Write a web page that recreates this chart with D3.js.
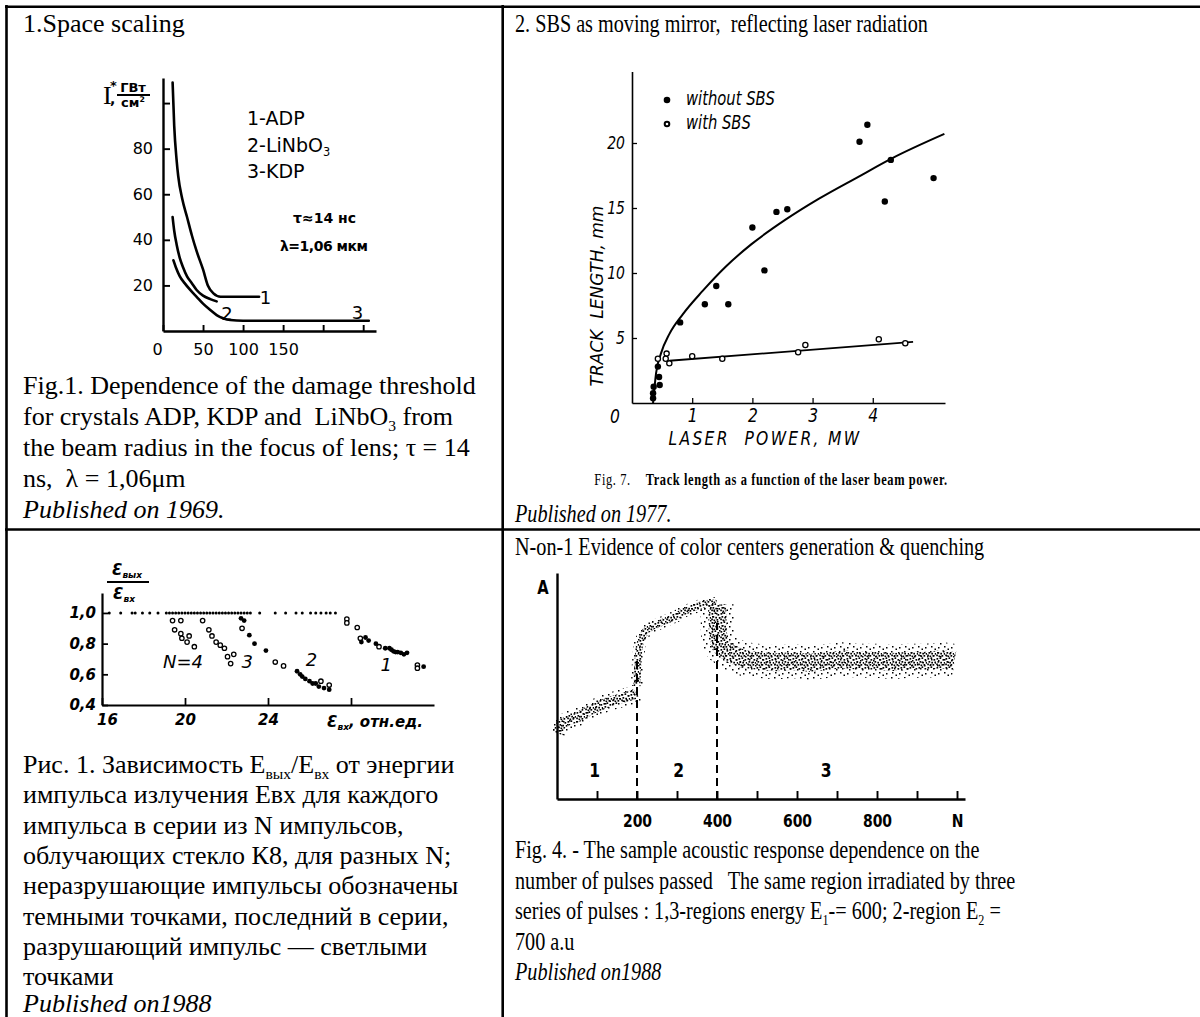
<!DOCTYPE html>
<html>
<head>
<meta charset="utf-8">
<script src="https://cdn.jsdelivr.net/npm/d3@7"></script>
<style>
  body { margin: 0; background: #fff; }
  svg { display: block; }
  text { white-space: pre; }
</style>
</head>
<body>
<svg id="svg"></svg>
<script>
// ---- chart 1: damage threshold vs beam radius ----
const radiusTicks = [0, 50, 100, 150, 200, 250];
const radiusLabels = ["0", "50", "100", "150"];
const thresholdTicks = [20, 40, 60, 80, 100];
const adpCurve = [[12, 109], [14, 90], [17, 75], [19, 68], [24, 58], [30, 50], [36, 42], [42, 35], [50, 27], [56, 20], [63, 16.5], [72, 15], [120, 15]];
const lnbCurve = [[12, 50], [14, 44], [17, 38], [21, 32], [25, 28], [30, 24], [36, 21], [42, 18], [50, 15.5], [59, 14], [67, 13]];
const kdpCurve = [[13, 31], [16, 28], [21, 24], [27, 21], [34, 18], [42, 15], [50, 12], [58, 9.5], [67, 7], [75, 5.6], [84, 4.8], [100, 4.5], [257, 4.5]];
const curveTags = [["1", 128, 15], ["2", 80, 8], ["3", 243, 8.5]];

// ---- chart 2: track length vs laser power ----
const powerTicks = [1, 2, 3, 4];
const lengthTicks = [5, 10, 15, 20];
const withoutSBS = [[0.35, 0.36], [0.35, 0.75], [0.36, 1.25], [0.46, 1.38], [0.45, 2.0], [0.43, 2.8], [0.8, 6.2], [1.21, 7.6], [1.4, 9.0], [1.6, 7.6], [2.0, 13.5], [2.2, 10.2], [2.4, 14.7], [2.58, 14.9], [3.78, 20.1], [3.91, 21.4], [4.2, 15.5], [4.3, 18.7], [5.01, 17.3]];
const withSBS = [[0.43, 3.4], [0.575, 3.8], [0.56, 3.4], [0.62, 3.05], [1.0, 3.6], [1.5, 3.4], [2.76, 3.9], [2.88, 4.46], [4.1, 4.9], [4.54, 4.6]];
const fitWithout = [[0.35, 0], [0.4, 2.3], [0.48, 3.8], [0.62, 5.3], [0.84, 6.8], [1.17, 8.6], [1.56, 10.5], [1.98, 12.2], [2.55, 14.1], [3.1, 15.7], [3.76, 17.4], [4.31, 18.8], [5.19, 20.7]];
const fitWith = [[0.62, 3.25], [4.67, 4.7]];
const sbsLegend = ["without SBS", "with SBS"];

// ---- chart 3: Eout/Ein vs Ein for N pulses ----
const energyTicks = [16, 20, 24, 28];
const energyLabels = ["16", "20", "24", ""];
const ratioTicks = [0.4, 0.6, 0.8, 1.0];
const unbrokenRow = [16.35, 16.9, 17.45, 17.6, 17.95, 18.3, 18.7, 19.1, 19.25, 19.4, 19.55, 19.7, 19.85, 20.0, 20.15, 20.3, 20.45, 20.6, 20.75, 20.9, 21.05, 21.2, 21.35, 21.5, 21.65, 21.8, 21.95, 22.1, 22.25, 22.4, 22.55, 22.7, 22.85, 23.0, 23.15, 23.6, 24.35, 24.85, 25.35, 25.65, 26.05, 26.3, 26.55, 26.8, 27.0, 27.25];
const openPts = [
  [19.4, 0.95], [19.8, 0.95], [19.5, 0.89], [19.8, 0.865], [19.85, 0.835], [20.2, 0.85], [20.1, 0.81], [20.45, 0.78],
  [20.85, 0.95], [21.15, 0.89], [21.3, 0.85], [21.5, 0.81], [21.7, 0.79], [21.9, 0.77], [22.05, 0.715], [22.35, 0.73], [22.2, 0.67],
  [22.75, 0.9], [24.35, 0.68], [24.75, 0.655], [26.55, 0.555], [26.95, 0.53],
  [27.8, 0.96], [27.8, 0.935], [28.3, 0.905], [28.45, 0.835], [29.35, 0.78], [31.2, 0.66], [31.2, 0.64]
];
const darkPts = [
  [22.7, 0.965], [22.85, 0.95], [23.1, 0.855], [23.35, 0.8], [23.9, 0.755], [25.4, 0.62], [25.55, 0.6], [25.65, 0.585], [25.8, 0.57], [26.0, 0.555], [26.15, 0.54], [26.3, 0.54], [26.45, 0.52], [26.7, 0.51], [26.95, 0.5],
  [28.5, 0.81], [28.7, 0.84], [28.85, 0.82], [29.2, 0.8], [29.65, 0.77], [29.85, 0.77], [29.95, 0.76], [30.05, 0.75], [30.15, 0.745], [30.25, 0.745], [30.4, 0.74], [30.55, 0.73], [30.7, 0.74], [31.5, 0.65]
];
const seriesTags = [["N=4", 19.9, 0.64], ["3", 23.0, 0.64], ["2", 26.1, 0.655], ["1", 29.7, 0.62]];

// ---- chart 4: acoustic response vs number of pulses ----
const pulseTicks = [100, 200, 300, 400, 500, 600, 700, 800, 900, 1000];
const pulseLabels = { 200: "200", 400: "400", 600: "600", 800: "800", 1000: "N" };
const region1 = [[2, 0.29], [10, 0.33], [30, 0.35], [50, 0.36], [70, 0.38], [90, 0.4], [110, 0.415], [130, 0.43], [150, 0.44], [170, 0.45], [190, 0.46], [198, 0.47]];
const region2 = [[200, 0.5], [201, 0.56], [203, 0.62], [206, 0.68], [212, 0.71], [222, 0.745], [240, 0.765], [257, 0.777], [280, 0.795], [300, 0.81], [316, 0.829], [340, 0.845], [365, 0.862], [385, 0.868], [398, 0.865]];
const region3 = [[400, 0.86], [401, 0.8], [402, 0.74], [405, 0.7], [410, 0.675], [432, 0.645], [465, 0.62], [507, 0.61], [548, 0.605], [590, 0.61], [632, 0.603], [673, 0.61], [715, 0.618], [757, 0.612], [798, 0.612], [840, 0.606], [882, 0.612], [923, 0.612], [965, 0.618], [994, 0.61]];
const regionBreaks = [[200, 0.63], [400, 0.78]];
const regionTags = [["1", 94, 0.13], ["2", 304, 0.13], ["3", 673, 0.13]];

// ---------------------------------------------------------------
const SQ = 0.777; // right column of the scan is squeezed horizontally
const serif = "'Liberation Serif','Times New Roman',serif";
const sans = "'DejaVu Sans',sans-serif";

const svg = d3.select("#svg").attr("width", 1200).attr("height", 1017);

function addText(parent, x, y, parts, o = {}) {
  const size = o.size || 26;
  const g = parent.append("g")
    .attr("transform", `translate(${x},${y})` + (o.squeeze ? ` scale(${SQ},1)` : "") + (o.rotate ? ` rotate(${o.rotate})` : ""));
  const t = g.append("text")
    .attr("font-family", o.family || serif)
    .attr("font-size", size)
    .attr("font-style", o.italic ? "italic" : null)
    .attr("font-weight", o.bold ? "bold" : null)
    .attr("letter-spacing", o.ls || null)
    .attr("text-anchor", o.anchor || "start")
    .attr("fill", "#000");
  let shift = 0;
  (typeof parts === "string" ? [[parts]] : parts).forEach(([s, kind, w]) => {
    const target = kind === "sub" ? size * 0.22 : kind === "sup" ? -size * 0.38 : 0;
    const ts = t.append("tspan").text(s).attr("dy", target - shift);
    if (kind) ts.attr("font-size", size * 0.6);
    if (w) ts.attr("font-weight", w);
    shift = target;
  });
  return t;
}

function styleAxis(g, w, family, size, extra = {}) {
  g.select(".domain").attr("stroke", "#000").attr("stroke-width", w);
  g.selectAll(".tick line").attr("stroke", "#000").attr("stroke-width", w * 0.8);
  const tx = g.selectAll(".tick text")
    .attr("font-family", family).attr("font-size", size).attr("fill", "#000")
    .attr("font-style", extra.italic ? "italic" : null)
    .attr("font-weight", extra.bold ? "bold" : null);
  if (extra.squeeze) tx.attr("transform", `scale(${SQ},1)`);
}

// patterns for the stippled scan traces
const defs = svg.append("defs");
const dense = defs.append("pattern").attr("id", "stipDense")
  .attr("patternUnits", "userSpaceOnUse").attr("width", 9).attr("height", 9);
[[0.5, 1], [3.5, 0.3], [6.5, 2], [7.8, 5], [1.5, 4], [4.3, 4.8], [2.5, 7.5], [5.5, 7], [0.2, 6.5]]
  .forEach(p => dense.append("rect").attr("x", p[0]).attr("y", p[1]).attr("width", 1.7).attr("height", 1.7).attr("fill", "#000"));
const loose = defs.append("pattern").attr("id", "stipLoose")
  .attr("patternUnits", "userSpaceOnUse").attr("width", 13).attr("height", 13);
[[1, 2], [7, 1], [4, 6], [10, 5], [2, 10], [8, 9], [11.5, 11.5]]
  .forEach(p => loose.append("rect").attr("x", p[0]).attr("y", p[1]).attr("width", 1.5).attr("height", 1.5).attr("fill", "#000"));

// ---- table grid ----
const grid = svg.append("g").attr("stroke", "#000").attr("stroke-width", 2.6);
grid.append("line").attr("x1", 5).attr("y1", 6.7).attr("x2", 1200).attr("y2", 6.7);
grid.append("line").attr("x1", 6.5).attr("y1", 5).attr("x2", 6.5).attr("y2", 1017);
grid.append("line").attr("x1", 502.7).attr("y1", 5).attr("x2", 502.7).attr("y2", 1017);
grid.append("line").attr("x1", 5).attr("y1", 529.5).attr("x2", 1200).attr("y2", 529.5);

// ---- left column texts ----
const txt = svg.append("g");
addText(txt, 23, 32, "1.Space scaling");
addText(txt, 23, 394, "Fig.1. Dependence of the damage threshold");
addText(txt, 23, 425, [["for crystals ADP, KDP and  LiNbO"], ["3", "sub"], [" from"]]);
addText(txt, 23, 456, "the beam radius in the focus of lens; \u03c4 = 14");
addText(txt, 23, 487, "ns,  \u03bb = 1,06\u03bcm");
addText(txt, 23, 518, "Published on 1969.", { italic: true });

const ruLines = [
  [["Рис. 1. Зависимость Е"], ["вых", "sub"], ["/Е"], ["вх", "sub"], [" от энергии"]],
  "импульса излучения Евх для каждого",
  "импульса в серии из N импульсов,",
  "облучающих стекло К8, для разных N;",
  "неразрушающие импульсы обозначены",
  "темными точками, последний в серии,",
  "разрушающий импульс — светлыми",
  "точками"
];
ruLines.forEach((l, i) => addText(txt, 23, 773 + i * 30.3, l));
addText(txt, 23, 1012, "Published on1988", { italic: true });

// ---- right column texts ----
addText(txt, 515, 32, "2. SBS as moving mirror,  reflecting laser radiation", { squeeze: true });
addText(txt, 771, 485, [["Fig. 7.    ", null, "normal"], ["Track length as a function of the laser beam power."]],
  { squeeze: true, size: 16, bold: true, ls: 0.8, anchor: "middle" });
addText(txt, 515, 522, "Published on 1977.", { squeeze: true, italic: true });
addText(txt, 515, 555, "N-on-1 Evidence of color centers generation & quenching", { squeeze: true });
addText(txt, 515, 858, "Fig. 4. - The sample acoustic response dependence on the", { squeeze: true });
addText(txt, 515, 888.5, "number of pulses passed   The same region irradiated by three", { squeeze: true });
addText(txt, 515, 919, [["series of pulses : 1,3-regions energy E"], ["1", "sub"], ["-= 600; 2-region E"], ["2", "sub"], [" ="]], { squeeze: true });
addText(txt, 515, 949.5, "700 a.u", { squeeze: true });
addText(txt, 515, 980, "Published on1988", { squeeze: true, italic: true });

// ================= chart 1 =================
const c1 = svg.append("g");
const x1 = d3.scaleLinear().domain([0, 266]).range([163, 376]);
const y1 = d3.scaleLinear().domain([0, 111]).range([331, 78]);

c1.append("g").attr("transform", "translate(0,331)")
  .call(d3.axisBottom(x1).tickValues(radiusTicks).tickSize(-6).tickSizeOuter(0).tickPadding(13)
    .tickFormat((d, i) => radiusLabels[i] || ""))
  .call(styleAxis, 2.4, sans, 16);
c1.select(".tick text").attr("dx", -6);

c1.append("g").attr("transform", "translate(163,0)")
  .call(d3.axisLeft(y1).tickValues(thresholdTicks).tickSize(-7).tickSizeOuter(0).tickPadding(10)
    .tickFormat(d => d < 100 ? d : ""))
  .call(styleAxis, 2.4, sans, 16);

const line1 = d3.line().x(d => x1(d[0])).y(d => y1(d[1])).curve(d3.curveMonotoneX);
[adpCurve, lnbCurve, kdpCurve].forEach(c => {
  c1.append("path").attr("d", line1(c)).attr("fill", "none")
    .attr("stroke", "#000").attr("stroke-width", 2.6).attr("stroke-linecap", "round");
});
curveTags.forEach(([t, r, v]) => addText(c1, x1(r), y1(v) + 7, t, { family: sans, size: 18, anchor: "middle" }));

// legend and conditions
[[["1-ADP"]], [["2-LiNbO"], ["3", "sub"]], [["3-KDP"]]]
  .forEach((p, i) => addText(c1, 247, 125 + i * 26.5, p, { family: sans, size: 19 }));
addText(c1, 293, 223, "\u03c4\u224814 нс", { family: sans, size: 14, bold: true });
addText(c1, 280, 251, "\u03bb=1,06 мкм", { family: sans, size: 14, bold: true, ls: -0.5 });

// y axis title I*, GW/cm2
addText(c1, 103, 104, "I", { size: 26 });
addText(c1, 110, 90, "*", { family: sans, size: 13, bold: true });
addText(c1, 110, 104, ",", { family: sans, size: 14, bold: true });
addText(c1, 133, 92, "ГВт", { family: sans, size: 13, bold: true, anchor: "middle" });
c1.append("line").attr("x1", 117).attr("x2", 150).attr("y1", 95).attr("y2", 95)
  .attr("stroke", "#000").attr("stroke-width", 1.8);
addText(c1, 133, 107, [["см"], ["2", "sup"]], { family: sans, size: 13, bold: true, anchor: "middle" });

// ================= chart 2 =================
const c2 = svg.append("g");
const x2 = d3.scaleLinear().domain([0, 5.2]).range([632, 945]);
const y2 = d3.scaleLinear().domain([0, 25.5]).range([403, 71.5]);

c2.append("g").attr("transform", "translate(0,403)")
  .call(d3.axisBottom(x2).tickValues(powerTicks).tickSize(-5).tickSizeOuter(0).tickPadding(5).tickFormat(d3.format("d")))
  .call(styleAxis, 1.6, sans, 20, { italic: true, squeeze: true });
c2.append("g").attr("transform", "translate(632,0)")
  .call(d3.axisLeft(y2).tickValues(lengthTicks).tickSize(-5).tickSizeOuter(0).tickPadding(9).tickFormat(d3.format("d")))
  .call(styleAxis, 1.6, sans, 18, { italic: true, squeeze: true });
addText(c2, x2(0) - 17, 423, "0", { family: sans, size: 20, italic: true, squeeze: true, anchor: "middle" });

const line2 = d3.line().x(d => x2(d[0])).y(d => y2(d[1])).curve(d3.curveMonotoneX);
c2.append("path").attr("d", line2(fitWithout)).attr("fill", "none").attr("stroke", "#000").attr("stroke-width", 2);
c2.append("path").attr("d", line2(fitWith)).attr("fill", "none").attr("stroke", "#000").attr("stroke-width", 1.8);

c2.selectAll(".dotFilled").data(withoutSBS).join("circle")
  .attr("cx", d => x2(d[0])).attr("cy", d => y2(d[1])).attr("r", 3.2).attr("fill", "#000");
c2.selectAll(".dotOpen").data(withSBS).join("circle")
  .attr("cx", d => x2(d[0])).attr("cy", d => y2(d[1])).attr("r", 2.6)
  .attr("fill", "#fff").attr("stroke", "#000").attr("stroke-width", 1.3);

sbsLegend.forEach((s, i) => {
  const cy = 100 + i * 24;
  const m = c2.append("circle").attr("cx", 667).attr("cy", cy);
  if (i === 0) m.attr("r", 3.3).attr("fill", "#000");
  else m.attr("r", 2.3).attr("fill", "#fff").attr("stroke", "#000").attr("stroke-width", 2);
  addText(c2, 686, cy + 5, s, { family: sans, size: 19, italic: true, squeeze: true });
});

addText(c2, 765, 445, "LASER  POWER, MW", { family: sans, size: 20, italic: true, ls: 3, squeeze: true, anchor: "middle" });
addText(c2, 603, 296, "TRACK  LENGTH, mm", { family: sans, size: 17, italic: true, anchor: "middle", rotate: -90 });

// ================= chart 3 =================
const c3 = svg.append("g");
const x3 = d3.scaleLinear().domain([16, 32]).range([102, 434]);
const y3 = d3.scaleLinear().domain([0.4, 1.13]).range([705, 593]);

c3.append("g").attr("transform", "translate(0,705)")
  .call(d3.axisBottom(x3).tickValues(energyTicks).tickSize(-7).tickSizeOuter(0).tickPadding(9)
    .tickFormat((d, i) => energyLabels[i]))
  .call(styleAxis, 2.2, sans, 15, { italic: true, bold: true });
c3.select(".tick text").attr("dx", 5);
c3.append("g").attr("transform", "translate(102,0)")
  .call(d3.axisLeft(y3).tickValues(ratioTicks).tickSize(-6).tickSizeOuter(0).tickPadding(6)
    .tickFormat(d => d.toFixed(1).replace(".", ",")))
  .call(styleAxis, 2.2, sans, 15, { italic: true, bold: true });

c3.selectAll(".row").data(unbrokenRow).join("circle")
  .attr("cx", d => x3(d)).attr("cy", y3(1.0)).attr("r", 1.5).attr("fill", "#000");
c3.selectAll(".open").data(openPts).join("circle")
  .attr("cx", d => x3(d[0])).attr("cy", d => y3(d[1])).attr("r", 2.2)
  .attr("fill", "#fff").attr("stroke", "#000").attr("stroke-width", 1.3);
c3.selectAll(".dark").data(darkPts).join("circle")
  .attr("cx", d => x3(d[0])).attr("cy", d => y3(d[1])).attr("r", 2.4).attr("fill", "#000");
seriesTags.forEach(([t, e, v]) => addText(c3, x3(e), y3(v), t, { family: sans, size: 18, italic: true, anchor: "middle" }));

addText(c3, 327, 727, [["\u0190"], ["вх", "sub"], [", отн.ед."]], { family: sans, size: 15, italic: true, bold: true });
addText(c3, 127, 575, [["\u0190"], ["вых", "sub"]], { family: sans, size: 15, italic: true, bold: true, anchor: "middle" });
c3.append("line").attr("x1", 107).attr("x2", 149).attr("y1", 582).attr("y2", 582).attr("stroke", "#000").attr("stroke-width", 1.8);
addText(c3, 124, 599, [["\u0190"], ["вх", "sub"]], { family: sans, size: 15, italic: true, bold: true, anchor: "middle" });

// ================= chart 4 =================
const c4 = svg.append("g");
const x4 = d3.scaleLinear().domain([0, 1020]).range([557, 965]);
const y4 = d3.scaleLinear().domain([0, 1]).range([799, 573]);

c4.append("g").attr("transform", "translate(0,799)")
  .call(d3.axisBottom(x4).tickValues(pulseTicks).tickSize(-8).tickSizeOuter(0).tickPadding(15)
    .tickFormat(d => pulseLabels[d] || ""))
  .call(styleAxis, 2.4, sans, 18, { bold: true, squeeze: true });
c4.append("g").attr("transform", "translate(557,0)")
  .call(d3.axisLeft(y4).tickValues([]).tickSizeOuter(0))
  .call(styleAxis, 2.4, sans, 18);

regionBreaks.forEach(([n, top]) => {
  c4.append("line").attr("x1", x4(n)).attr("x2", x4(n)).attr("y1", y4(0)).attr("y2", y4(top))
    .attr("stroke", "#000").attr("stroke-width", 2).attr("stroke-dasharray", "8,5");
});

const trace = d3.line().x(d => x4(d[0])).y(d => y4(d[1]));
const haloW = [18, 12, 34], coreW = [10, 7, 18];
[region1, region2, region3].forEach((r, i) => {
  c4.append("path").attr("d", trace(r)).attr("fill", "none")
    .attr("stroke", "url(#stipLoose)").attr("stroke-width", haloW[i]).attr("stroke-linejoin", "round");
  c4.append("path").attr("d", trace(r)).attr("fill", "none")
    .attr("stroke", "url(#stipDense)").attr("stroke-width", coreW[i]).attr("stroke-linejoin", "round");
});

regionTags.forEach(([t, n, a]) => addText(c4, x4(n), y4(a) + 7, t, { family: sans, size: 20, bold: true, squeeze: true, anchor: "middle" }));
addText(c4, 543, 594, "A", { family: sans, size: 19, bold: true, squeeze: true, anchor: "middle" });
</script>
</body>
</html>
